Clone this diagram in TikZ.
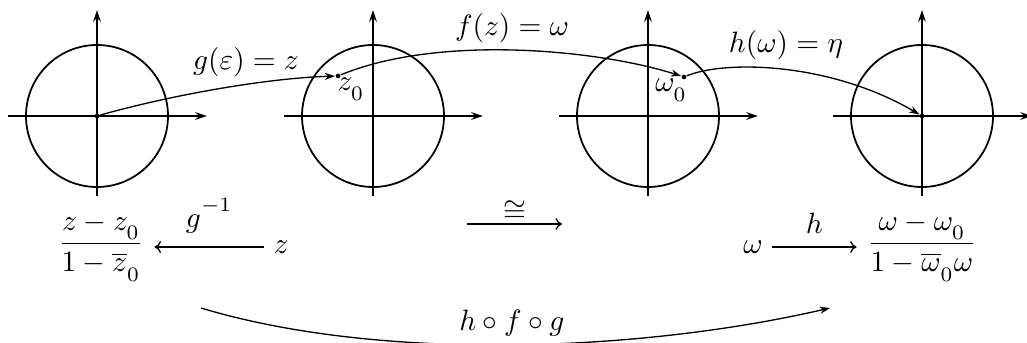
\documentclass[tikz,border=0pt]{standalone}
\usepackage{amsmath,amssymb}
\usetikzlibrary{arrows.meta}
\newcommand\lsub[1]{_{\raisebox{-1.8pt}{$\scriptstyle #1$}}}
\newcommand\hsup[1]{^{\raisebox{2pt}{$\scriptstyle #1$}}}
\begin{document}
\begin{tikzpicture}[x=0.34pt,y=-0.34pt,
  ax/.style={line width=0.6pt,-{Stealth[length=4pt,width=2.6pt]}},
  disc/.style={line width=0.6pt},
  conn/.style={line width=0.45pt,-{Stealth[length=3.5pt,width=2.4pt]}},
  marr/.style={line width=0.45pt,-{To[length=2.2pt,width=4pt]}},
  dot/.style={circle,fill,inner sep=0pt,minimum size=1.6pt},
  lab/.style={inner sep=1pt}]
\useasboundingbox (0,0) rectangle (1027,343);
% planes
\foreach \c in {97,373,648,922}{
  \draw[disc] (\c,116) circle[radius=71];
  \draw[ax] (\c-89,116) -- (\c+110,116);
  \draw[ax] (\c,196) -- (\c,10);
}
% points
\node[dot] (o1) at (97,116) {};
\node[dot] (z0) at (338,76) {};
\node[dot] (w0) at (684,77) {};
\node[dot] (o4) at (922,116) {};
% mapping arrows
\draw[conn] (o1) .. controls (175,94) and (270,78) .. (z0);
\draw[conn] (z0) .. controls (440,34) and (600,50) .. (w0);
\draw[conn] (w0) .. controls (725,60) and (830,62) .. (o4);
% labels
\node[lab] (lg) at (246,62) {$g(\varepsilon)=z$};
\node[lab] (lf) at (512,28) {$f(z)=\omega$};
\node[lab] (lh) at (786,45) {$h(\omega)=\eta$};
\node[lab] (lz0) at (351,89) {$z\lsub{0}$};
\node[lab] (lw0) at (671,90) {$\omega\lsub{0}$};
% bottom left
\node[inner sep=3.4pt] (fl) at (101,247) {$\dfrac{z-z\lsub{0}}{1-\overline{z}\lsub{0}}$};
\node[inner sep=3pt] (zl) at (281,247) {$z$};
\draw[marr] (zl) -- node[above=1pt] {$g\hsup{-1}$} (fl);
% middle
\coordinate (c1) at (467,224);
\coordinate (c2) at (562,224);
\draw[marr] (c1) -- node[above=-2.6pt] {$\cong$} (c2);
% bottom right
\node[inner sep=3pt] (wr) at (753,247) {$\omega$};
\node[inner sep=3.4pt] (fr) at (922,247) {$\dfrac{\omega-\omega\lsub{0}}{1-\overline{\omega}\lsub{0}\omega}$};
\draw[marr] (wr) -- node[above=1pt] {$h$} (fr);
% composite
\coordinate (b1) at (201,308);
\coordinate (b2) at (830,308);
\draw[conn] (b1) .. controls (380,362) and (640,352) .. (b2);
\node[lab] (lc) at (512,323) {$h\circ f\circ g$};
\end{tikzpicture}
\end{document}
